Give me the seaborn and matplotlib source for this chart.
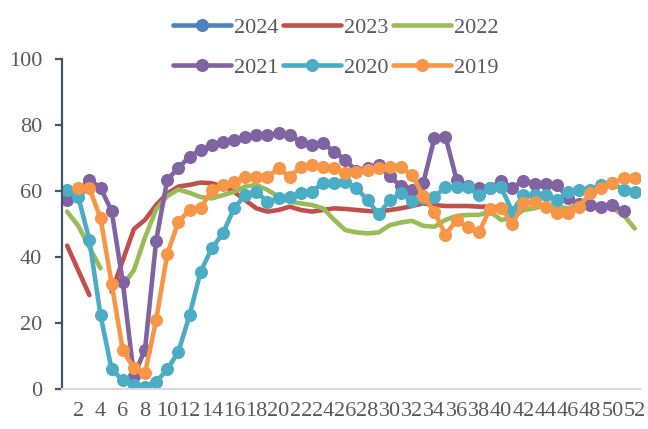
import numpy as np
import pandas as pd
import matplotlib
matplotlib.use("Agg")
import matplotlib.pyplot as plt
from matplotlib.lines import Line2D
import seaborn as sns

# weekly index values, one list per year (None = no data that week)
weeks = list(range(1, 53))

y2024 = [None] * 52

y2023 = [43.5, 36, 28.5, None, 29.5, 39, 48.5, 51.3, 55.8, 59.3, 61.4, 61.9, 62.6,
         62.4, 61.4, 59.8, 57.3, 54.8, 53.8, 54.3, 55.3, 54.3, 53.8, 54.3, 54.8, 54.6,
         54.3, 54.0, 53.8, 54.3, 54.8, 55.5, 56.3, 55.8, 55.5, 55.5, 55.5, 55.3, 55.3,
         55.0, None, None, None, None, None, None, None, None, None, None, None, None]

y2022 = [53.8, 49.5, 43, 36.6, None, 31.5, 36, 46, 54.5, 58.5, 60.5, 59.5, 58.2,
         57.8, 58.8, 59.8, 61.4, 61.9, 60.4, 58.3, 56.8, 56.3, 55.8, 54.8, 51.3, 48.2,
         47.5, 47.2, 47.5, 49.7, 50.5, 51.0, 49.5, 49.2, 51.3, 52.5, 52.8, 52.8, 53.8,
         51.3, 51.8, 54.3, 54.8, 55.8, 55.3, 54.8, 55.8, 55.8, 55.3, 54.8, 52.8, 48.7]

y2021 = [57.3, 60, 63.5, 61, 54, 32.5, 4, 12, 45, 63.5, 67, 70.5, 72.5,
         74, 75, 75.5, 76.5, 77, 77, 77.5, 77, 75, 74, 74.5, 72, 69.5,
         66, 67, 68, 64.5, 61.5, 60.5, 62.5, 76, 76.5, 63.5, 61.5, 61, 61,
         63, 61, 63.2, 62.3, 62.3, 62, 58, 56, 55.8, 55.3, 55.8, 54, None]

y2020 = [60.4, 58.3, 45.2, 22.4, 6.0, 2.7, 1.2, 0.7, 2.2, 6.0, 11.3, 22.4, 35.6,
         42.7, 47.2, 54.8, 58.8, 59.8, 56.8, 57.8, 58.3, 59.3, 59.8, 62.6, 62.6, 62.9,
         60.9, 57.3, 53, 57.3, 59.3, 57, 57.8, 58.3, 61.2, 61.4, 61.2, 58.8, 60.9,
         61.2, 53.8, 58.8, 58.8, 58.8, 57.3, 59.8, 60.4, 60.4, 61.9, 62.4, 60.4, 59.8]

y2019 = [None, 60.9, 60.9, 51.8, 32, 11.8, 6.3, 4.8, 20.9, 41, 50.7, 54.3, 54.8,
         60.4, 61.9, 62.9, 64.2, 64.4, 64.4, 66.9, 64.4, 67.4, 67.9, 67.4, 66.9, 65.4,
         65.9, 66.4, 66.9, 67.2, 67.2, 64.9, 58.5, 53.8, 46.7, 51.3, 49, 47.5, 54.6,
         55, 50, 56.3, 56.8, 55.3, 53.3, 53.3, 55.3, 59.4, 60.9, 62.4, 63.9, 63.9]

years = ["2024", "2023", "2022", "2021", "2020", "2019"]
series = [y2024, y2023, y2022, y2021, y2020, y2019]
colors = ["#4F81BD", "#C0504D", "#9BBB59", "#8064A2", "#4BACC6", "#F79646"]
has_marker = [True, False, False, True, True, True]

sns.set_style("white")
plt.rcParams["font.family"] = ["Liberation Serif", "DejaVu Serif"]

fig = plt.figure(figsize=(6.48, 4.29), dpi=100)
ax = fig.add_axes([0.095, 0.093, 0.893, 0.769])

LW = 3.3
MS = 9.4

for vals, col, mk in zip(series, colors, has_marker):
    df = pd.DataFrame({"week": weeks, "value": pd.to_numeric(pd.Series(vals, dtype="float"))})
    df["seg"] = df["value"].isna().cumsum()  # break the line at missing weeks
    df = df.dropna()
    if df.empty:
        continue
    kw = dict(marker="o", markersize=MS, markeredgewidth=0) if mk else {}
    sns.lineplot(data=df, x="week", y="value", units="seg", estimator=None,
                 color=col, lw=LW, solid_capstyle="round", solid_joinstyle="round",
                 legend=False, ax=ax, **kw)

ax.set_xlim(0.5, 52.5)
ax.set_ylim(0, 100)
ax.set_yticks(range(0, 101, 20))
ax.set_xticks(range(2, 53, 2))
ax.set_xticklabels([str(w) for w in range(2, 53, 2)])
ax.set_xlabel("")
ax.set_ylabel("")

for s in ["top", "right"]:
    ax.spines[s].set_visible(False)
ax.spines["left"].set_color("#44546A")
ax.spines["left"].set_linewidth(1.6)
ax.spines["bottom"].set_color("#D9D9D9")
ax.spines["bottom"].set_linewidth(1.5)

ax.tick_params(axis="y", left=True, length=5, width=1.6, color="#44546A",
               pad=9, labelsize=16, labelcolor="#595959")
ax.tick_params(axis="x", bottom=False, length=0, pad=9, labelsize=16,
               labelcolor="#595959")

# legend: two rows of three, filled column by column
order = [0, 3, 1, 4, 2, 5]
handles = []
for i in order:
    if has_marker[i]:
        h = Line2D([], [], color=colors[i], lw=LW, marker="o", markersize=MS,
                   markeredgewidth=0, solid_capstyle="round")
    else:
        h = Line2D([], [], color=colors[i], lw=LW, solid_capstyle="round")
    handles.append(h)
fig.legend(handles, [years[i] for i in order], loc="upper center",
           bbox_to_anchor=(0.518, 0.985), ncol=3, frameon=False, fontsize=16,
           labelcolor="#595959", handlelength=2.6, handletextpad=0.15,
           columnspacing=0.2, labelspacing=0.85, borderpad=0)

fig.savefig("out.png", dpi=100)
